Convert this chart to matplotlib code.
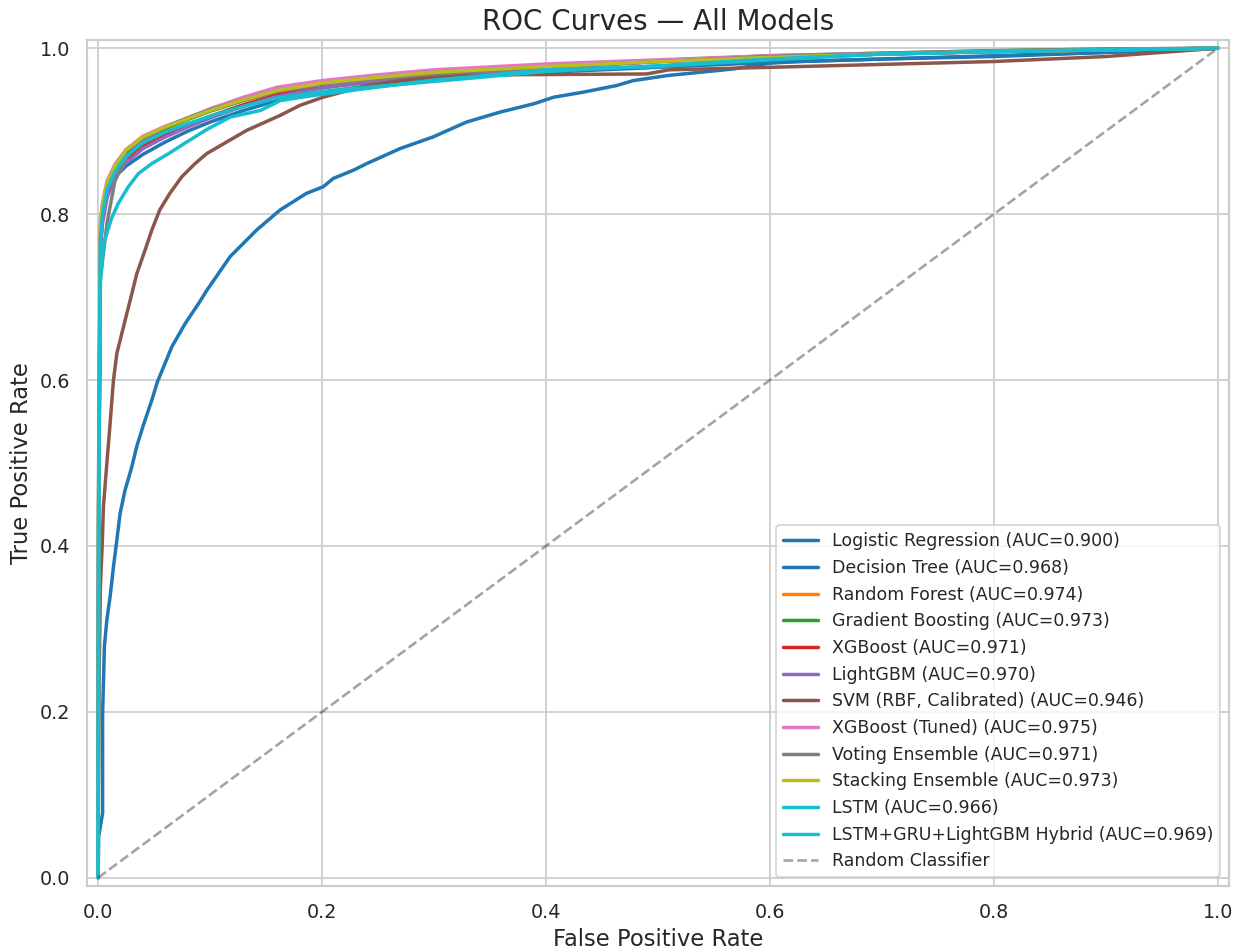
import matplotlib
matplotlib.use('Agg')
import matplotlib.pyplot as plt
import seaborn as sns
import numpy as np

# model names and AUC scores (legend order)
names = ['Logistic Regression', 'Decision Tree', 'Random Forest', 'Gradient Boosting',
         'XGBoost', 'LightGBM', 'SVM (RBF, Calibrated)', 'XGBoost (Tuned)',
         'Voting Ensemble', 'Stacking Ensemble', 'LSTM', 'LSTM+GRU+LightGBM Hybrid']
aucs = [0.900, 0.968, 0.974, 0.973, 0.971, 0.970, 0.946, 0.975, 0.971, 0.973, 0.966, 0.969]

# logistic regression roc points
fpr_lr = [0, 0.0005, 0.004, 0.004, 0.0056, 0.0078, 0.0107, 0.0137, 0.0167, 0.0196,
          0.024, 0.030, 0.0345, 0.040, 0.048, 0.053, 0.0658, 0.0777, 0.0896, 0.097,
          0.118, 0.1417, 0.1625, 0.186, 0.201, 0.210, 0.228, 0.240, 0.2696, 0.299,
          0.329, 0.359, 0.389, 0.407, 0.433, 0.463, 0.478, 0.508, 0.5375, 0.567,
          0.60, 0.627, 0.70, 0.80, 0.90, 1.0]
tpr_lr = [0, 0.05, 0.078, 0.198, 0.279, 0.311, 0.339, 0.375, 0.407, 0.439,
          0.467, 0.495, 0.520, 0.544, 0.576, 0.598, 0.640, 0.668, 0.692, 0.708,
          0.749, 0.781, 0.805, 0.825, 0.833, 0.843, 0.853, 0.861, 0.879, 0.893,
          0.911, 0.923, 0.933, 0.941, 0.947, 0.955, 0.961, 0.967, 0.971, 0.975,
          0.982, 0.984, 0.987, 0.990, 0.995, 1.0]

# shared fpr grid for the tree / boosting / ensemble models
fpr_grid = [0, 0.0005, 0.002, 0.004, 0.008, 0.015, 0.025, 0.04, 0.06, 0.08, 0.1, 0.13,
            0.16, 0.2, 0.25, 0.3, 0.4, 0.5, 0.6, 0.7, 0.8, 0.9, 1.0]
tpr_dt = [0, 0.45, 0.77, 0.80, 0.825, 0.845, 0.858, 0.872, 0.887, 0.900, 0.911, 0.925,
          0.937, 0.947, 0.956, 0.963, 0.971, 0.977, 0.983, 0.987, 0.991, 0.995, 1.0]
tpr_rf = [0, 0.5, 0.78, 0.81, 0.835, 0.857, 0.875, 0.892, 0.905, 0.915, 0.925, 0.939,
          0.950, 0.959, 0.966, 0.972, 0.979, 0.985, 0.990, 0.993, 0.996, 0.998, 1.0]
tpr_gb = [0, 0.48, 0.77, 0.80, 0.83, 0.853, 0.872, 0.889, 0.903, 0.914, 0.924, 0.937,
          0.948, 0.957, 0.965, 0.971, 0.978, 0.985, 0.991, 0.994, 0.997, 0.999, 1.0]
tpr_xgb = [0, 0.46, 0.76, 0.795, 0.825, 0.848, 0.866, 0.883, 0.897, 0.907, 0.918, 0.932,
           0.944, 0.954, 0.962, 0.969, 0.977, 0.984, 0.989, 0.993, 0.996, 0.998, 1.0]
tpr_lgbm = [0, 0.45, 0.76, 0.79, 0.82, 0.845, 0.862, 0.879, 0.893, 0.905, 0.916, 0.930,
            0.942, 0.952, 0.960, 0.967, 0.976, 0.984, 0.989, 0.993, 0.996, 0.998, 1.0]
tpr_xgbt = [0, 0.52, 0.79, 0.815, 0.84, 0.86, 0.878, 0.894, 0.906, 0.916, 0.927, 0.941,
            0.953, 0.961, 0.968, 0.974, 0.981, 0.986, 0.991, 0.994, 0.996, 0.998, 1.0]
tpr_vote = [0, 0.45, 0.72, 0.745, 0.79, 0.84, 0.868, 0.89, 0.905, 0.916, 0.926, 0.938,
            0.948, 0.956, 0.963, 0.969, 0.977, 0.984, 0.990, 0.994, 0.997, 0.999, 1.0]
tpr_stack = [0, 0.5, 0.785, 0.812, 0.838, 0.858, 0.877, 0.893, 0.905, 0.915, 0.925, 0.938,
             0.949, 0.958, 0.965, 0.971, 0.978, 0.984, 0.989, 0.993, 0.996, 0.998, 1.0]
tpr_hybrid = [0, 0.5, 0.77, 0.80, 0.83, 0.851, 0.870, 0.886, 0.899, 0.909, 0.918, 0.930,
              0.940, 0.948, 0.954, 0.960, 0.972, 0.979, 0.987, 0.993, 0.996, 0.998, 1.0]

# svm roc points
fpr_svm = [0, 0.0005, 0.002, 0.0038, 0.0047, 0.0078, 0.0107, 0.0137, 0.0167, 0.0226,
           0.0286, 0.0345, 0.042, 0.048, 0.055, 0.064, 0.0747, 0.0866, 0.097, 0.1327,
           0.1625, 0.18, 0.201, 0.24, 0.27, 0.305, 0.36, 0.49, 0.51, 0.6,
           0.8, 0.9, 1.0]
tpr_svm = [0, 0.2, 0.35, 0.407, 0.447, 0.50, 0.548, 0.60, 0.632, 0.664,
           0.696, 0.728, 0.757, 0.781, 0.805, 0.825, 0.845, 0.861, 0.873, 0.901,
           0.919, 0.931, 0.941, 0.955, 0.961, 0.966, 0.968, 0.969, 0.974, 0.977,
           0.984, 0.990, 1.0]

# lstm roc points
fpr_lstm = [0, 0.0005, 0.002, 0.005, 0.012, 0.018, 0.027, 0.036, 0.048, 0.063, 0.078,
            0.097, 0.118, 0.145, 0.163, 0.192, 0.237, 0.296, 0.36, 0.4, 0.5, 0.6, 0.7,
            0.8, 0.9, 1.0]
tpr_lstm = [0, 0.45, 0.72, 0.765, 0.795, 0.813, 0.833, 0.849, 0.861, 0.873, 0.886,
            0.902, 0.917, 0.925, 0.937, 0.943, 0.951, 0.961, 0.969, 0.974, 0.978, 0.986,
            0.993, 0.996, 0.998, 1.0]

curves = [(fpr_lr, tpr_lr), (fpr_grid, tpr_dt), (fpr_grid, tpr_rf), (fpr_grid, tpr_gb),
          (fpr_grid, tpr_xgb), (fpr_grid, tpr_lgbm), (fpr_svm, tpr_svm),
          (fpr_grid, tpr_xgbt), (fpr_grid, tpr_vote), (fpr_grid, tpr_stack),
          (fpr_lstm, tpr_lstm), (fpr_grid, tpr_hybrid)]

sns.set_theme(style='whitegrid')
fig, ax = plt.subplots(figsize=(9.936, 7.608), dpi=125)
fig.subplots_adjust(left=0.070, right=0.9895, bottom=0.0683, top=0.958)

colors = plt.cm.tab10(np.linspace(0, 1, len(names)))
for (fpr, tpr), name, auc, c in zip(curves, names, aucs, colors):
    ax.plot(fpr, tpr, color=c, lw=2, label=f'{name} (AUC={auc:.3f})')

ax.plot([0, 1], [0, 1], 'k--', alpha=0.4, lw=1.5, label='Random Classifier')

ax.set_xlim(-0.01, 1.01)
ax.set_ylim(-0.01, 1.01)
ax.set_xlabel('False Positive Rate', fontsize=13)
ax.set_ylabel('True Positive Rate', fontsize=13)
ax.set_title('ROC Curves — All Models', fontsize=16)
ax.legend(loc='lower right', fontsize=10)

plt.savefig('out.png', dpi=125)
